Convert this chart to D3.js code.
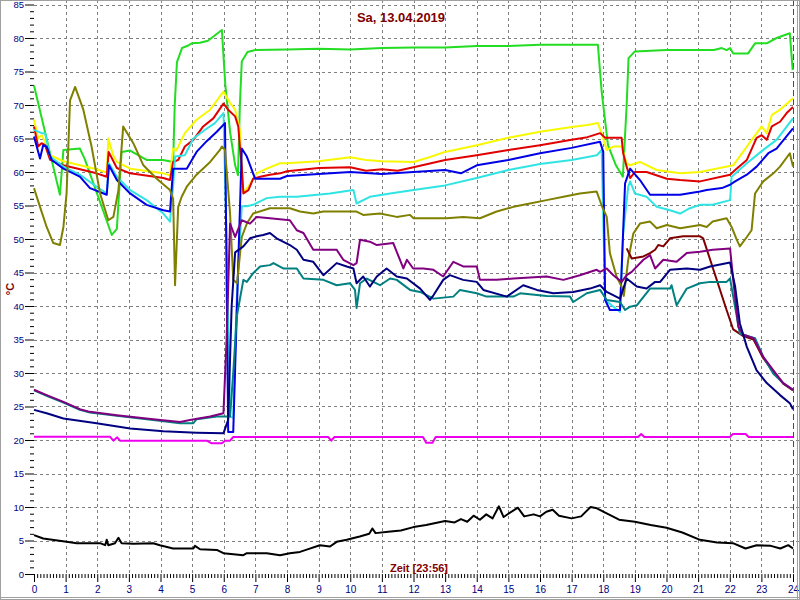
<!DOCTYPE html>
<html><head><meta charset="utf-8">
<script src="https://cdn.jsdelivr.net/npm/d3@7"></script>
<style>
body{margin:0;background:#fff;}
svg{display:block;font-family:"Liberation Sans",Arial,sans-serif;}
</style>
</head><body>
<svg id="c" width="800" height="600"></svg>
<script>
// ---------- labels / ticks ----------
const title = "Sa, 13.04.2019";
const xTitle = "Zeit [23:56]";
const yTitle = "°C";
const hourTicks = d3.range(0, 25);
const tempTicks = d3.range(0, 86, 5);
const nowHour = 24;

// ---------- series: [hour, °C] ----------
const green = [[0,72.9],[0.82,56.6],[0.93,63.3],[1.45,63.5],[1.6,62],[2.46,50.6],[2.62,51.5],[2.77,63],[3.04,63.2],[3.56,61.8],[4.08,61.8],[4.4,61.5],[4.45,70],[4.52,76.4],[4.68,78.5],[4.84,78.8],[4.99,79.2],[5.25,79.3],[5.5,79.6],[5.94,81.2],[6.05,73],[6.2,66],[6.36,61],[6.45,59.5],[6.51,70],[6.57,76.5],[6.75,77.9],[7,78.2],[8,78.3],[9,78.4],[10,78.3],[11,78.5],[12,78.6],[13,78.6],[14,78.8],[15,78.8],[16,79],[17,79],[17.83,79],[17.95,72],[18.15,64],[18.4,61],[18.62,59.3],[18.74,70],[18.8,77],[19,78],[20,78.2],[21.5,78.2],[21.75,78.5],[21.9,78.2],[22.01,78.5],[22.11,77.7],[22.58,77.7],[22.8,79.2],[23.17,79.2],[23.48,80],[23.9,80.7],[23.99,75.2]];
const yellow = [[0,67.8],[0.13,65],[0.24,65.5],[0.35,64.5],[0.51,62.5],[0.93,61.6],[1.98,60.4],[2.3,59.9],[2.35,65],[2.5,62.5],[2.62,61.5],[3.04,60.5],[4.09,59.8],[4.3,59.5],[4.4,63.5],[4.5,63.2],[4.77,65.8],[5.14,67.8],[5.57,69.3],[5.99,72],[6.2,70.3],[6.36,69.3],[6.51,66.3],[6.57,61],[6.62,57],[6.78,57.8],[7.04,59.8],[7.36,60.5],[7.78,61.3],[8,61.3],[9,61.6],[10,62.2],[10.5,61.8],[11,61.6],[12,61.5],[12.5,62.2],[13,63],[14,64],[15,65.1],[16,66],[17,66.7],[17.5,67],[17.83,67.3],[17.95,65.8],[18.11,63.3],[18.32,63.8],[18.58,63.8],[18.74,61.3],[18.85,61],[19.16,61.5],[19.69,60.3],[20.43,59.8],[21.06,60],[22.11,61],[22.54,63.8],[23.01,66.8],[23.17,65.8],[23.33,68.5],[23.59,69.3],[24,71]];
const red = [[0,66.8],[0.13,63.8],[0.24,64.3],[0.35,64],[0.51,61.8],[0.93,61],[1.98,59.8],[2.3,59.3],[2.36,63],[2.62,60.6],[3.04,59.8],[4.09,59.1],[4.3,58.8],[4.4,61.5],[4.56,61.8],[4.77,63.8],[5.04,64.8],[5.35,66.8],[5.67,68],[5.99,70.2],[6.14,69.3],[6.36,68.3],[6.46,66.8],[6.51,63.8],[6.57,60.8],[6.62,56.8],[6.78,57.3],[6.93,59],[7.15,59.3],[7.46,59.6],[7.78,59.8],[8,60.1],[9,60.6],[10,60.7],[10.5,60.2],[11,60.4],[11.5,60.2],[12,60.7],[13,61.8],[14,62.5],[15,63.3],[16,64],[17,64.8],[17.5,65.2],[17.9,65.8],[18.06,65.1],[18.58,65.1],[18.63,62.8],[18.74,60.8],[18.85,59.1],[19,60],[19.37,60],[20.01,59],[20.43,58.8],[21.06,58.6],[22.01,59.6],[22.17,60.3],[22.54,61.8],[22.85,65.1],[23.01,65.5],[23.17,64.8],[23.33,66.8],[23.59,67.5],[23.8,68.8],[24,69.7]];
const cyan = [[0,66.3],[0.24,65.8],[0.35,65.8],[0.51,62.3],[0.93,60.8],[1.45,59.6],[1.98,57.8],[2.3,56.8],[2.37,61.3],[2.62,59.3],[3.04,57.3],[3.56,55.8],[4.09,53.8],[4.3,52.6],[4.4,58],[4.46,62.3],[4.77,62.5],[5.04,65],[5.41,66.3],[5.72,67.3],[5.99,68.8],[6.09,50],[6.2,23.5],[6.3,23.3],[6.4,40],[6.57,54.9],[6.73,54.9],[6.93,55.1],[7.36,56.1],[7.78,56.3],[8.31,56.3],[9.36,56.8],[10.1,57.3],[10.2,55.3],[10.62,56.3],[11.26,56.8],[12,57.3],[13,58],[14,59.1],[15,60.3],[16,61.2],[17,61.8],[17.8,62.5],[17.95,63.3],[18.06,40.9],[18.53,39.1],[18.63,50.9],[18.79,57.8],[18.85,58.6],[19,56.8],[19.37,56.3],[19.69,54.8],[20.11,54.3],[20.43,53.8],[20.74,54.6],[21.06,55.1],[21.46,55.1],[22.01,55.8],[22.06,59.3],[22.54,61.3],[23.06,63.3],[23.48,64.8],[24,68]];
const blue = [[0,65.3],[0.19,62],[0.29,64],[0.4,63.8],[0.56,61.8],[0.93,60.5],[1.45,59.3],[1.77,57.6],[2.3,56.6],[2.37,61],[2.62,58.8],[3.04,56.8],[3.56,55.1],[4.09,54.3],[4.3,54.1],[4.4,60.5],[4.83,60.5],[5.14,63],[5.46,64.6],[5.78,66],[6.04,67.3],[6.1,40],[6.14,21.2],[6.3,21.2],[6.45,45],[6.57,63.5],[6.73,62.3],[6.99,59],[7.78,59],[8,59.4],[9,59.7],[10,60],[11,59.7],[12,60],[13,60.3],[13.5,59.8],[14,61],[15,61.8],[16,62.8],[17,63.6],[17.9,64.5],[18,63],[18.06,40.9],[18.21,39.4],[18.53,39.4],[18.69,58.3],[18.85,60.5],[19.16,58.8],[19.48,56.6],[20.43,56.6],[21.06,57.1],[21.27,57.3],[21.75,57.6],[22.01,58.1],[22.17,58.6],[22.54,59.6],[22.85,60.8],[23.22,62.8],[23.48,63.5],[24,66.5]];
const olive = [[0,57.6],[0.19,54.8],[0.4,51.8],[0.61,49.4],[0.82,49.1],[0.93,51.8],[1.03,56.8],[1.14,70.7],[1.3,72.7],[1.56,69.3],[1.82,63.8],[2.09,56.8],[2.35,52.8],[2.51,53.3],[2.67,57.3],[2.82,66.8],[3.14,64.3],[3.46,61],[3.88,59],[4.3,57.3],[4.4,56],[4.46,43.1],[4.56,54.8],[4.67,56.3],[4.83,57.8],[5.14,59.6],[5.57,61.5],[5.88,63.3],[5.94,63.8],[6.04,63.3],[6.2,53.8],[6.3,43.9],[6.42,43.4],[6.57,50.3],[6.73,52.3],[6.93,53.8],[7.46,54.6],[8.09,54.6],[8.41,54.1],[8.83,53.8],[9.15,54.1],[10.2,54.1],[10.41,53.6],[10.94,53.8],[11.47,53.3],[11.89,53.6],[12,53.1],[13.05,53.1],[13.57,53.3],[14.1,53.1],[14.63,54.1],[15.16,54.8],[15.68,55.3],[16.21,55.8],[16.74,56.3],[17.26,56.8],[17.79,57.1],[17.95,55],[18.11,53.3],[18.21,47.9],[18.42,44.4],[18.58,42.9],[18.65,41.5],[18.79,46.9],[18.95,50.8],[19.16,52.3],[19.48,52.6],[19.69,51.6],[20.01,52.1],[20.43,51.6],[21.06,52.1],[21.27,51.8],[21.46,52.6],[21.9,53.1],[22.06,51.8],[22.22,49.9],[22.32,48.9],[22.54,50.3],[22.69,51.3],[22.8,56.8],[23.06,58.6],[23.38,59.8],[23.59,60.8],[23.9,62.8],[24,60.8]];
const purple = [[0,27.5],[0.4,26.7],[0.93,25.7],[1.45,24.6],[1.77,24.2],[2.62,23.7],[3.77,23.1],[4.62,22.7],[4.93,23],[5.57,23.5],[5.99,24],[6.09,35],[6.2,52.3],[6.36,50.3],[6.57,52.8],[6.83,52.3],[7.04,53.3],[7.46,53.1],[8.09,52.8],[8.31,51.3],[8.52,50.9],[8.83,48.4],[9.57,48.4],[9.78,46.9],[10.1,46.1],[10.2,46.4],[10.31,49.9],[10.62,49.6],[10.84,49.1],[11.36,49.4],[11.68,45.6],[11.79,46.9],[11.99,45.6],[12.31,45.6],[12.63,45.4],[12.94,44.4],[13.26,46.6],[13.57,45.9],[14,45.9],[14.1,43.9],[14.63,43.9],[15.16,44.1],[16.21,44.4],[16.74,43.9],[17.26,44.6],[17.79,45.4],[17.9,45.1],[18.11,45.6],[18.32,44.6],[18.58,43.6],[18.74,44.6],[18.9,45.1],[19.27,46.9],[19.48,47.6],[19.64,45.6],[19.9,46.9],[20.32,46.6],[20.64,47.9],[21.06,48.1],[21.46,48.4],[22.01,48.6],[22.11,43.9],[22.27,36.9],[22.43,35.7],[22.75,35.2],[23.06,32.4],[23.38,30.4],[23.69,28.5],[24,27.5]];
const navy = [[0,24.5],[0.4,24],[0.93,23.2],[1.98,22.5],[3.04,21.7],[4.09,21.3],[5.14,21.1],[5.99,21],[6.14,23],[6.25,40],[6.36,48],[6.62,48.9],[6.83,50.1],[7.04,50.4],[7.25,50.6],[7.46,50.9],[7.67,50.1],[8.09,49.1],[8.31,48.4],[8.52,46.9],[8.83,46.6],[9.15,44.6],[9.57,46.4],[9.89,45.9],[10.1,45.6],[10.2,43.4],[10.41,44.4],[10.62,42.9],[10.84,44.4],[11.15,45.6],[11.47,44.4],[11.79,44.1],[12.21,42.6],[12.52,40.9],[12.63,41.6],[12.94,43.9],[13.15,44.6],[13.57,43.9],[14,43.6],[14.21,42.4],[14.95,41.4],[15.47,43.1],[15.9,42.4],[16.42,41.9],[17.05,42.1],[17.58,42.6],[17.9,43.1],[18.11,42.1],[18.53,41.1],[18.74,44.1],[19.06,42.9],[19.37,42.6],[19.64,43.6],[19.8,43.6],[20.11,45.4],[20.64,45.6],[21.06,45.4],[21.38,45.9],[22.01,46.5],[22.17,42.9],[22.32,37.4],[22.54,33.9],[22.85,30.4],[23.17,28.5],[23.59,26.7],[23.9,25.5],[24,24.6]];
const teal = [[0,27.4],[0.4,26.6],[0.93,25.6],[1.45,24.5],[1.77,24.1],[2.62,23.6],[3.77,23],[4.62,22.5],[5.04,22.5],[5.14,23.1],[5.78,23.5],[6.2,23.5],[6.3,30],[6.41,38.4],[6.62,43.9],[6.73,43.6],[6.93,44.9],[7.15,45.9],[7.46,46.1],[7.57,46.4],[7.88,45.6],[8.31,45.6],[8.52,44.1],[9.15,43.9],[9.57,43.1],[9.99,43.4],[10.15,42.4],[10.2,39.7],[10.31,43.4],[10.52,44.1],[10.94,43.1],[11.26,44.1],[11.47,43.9],[11.89,42.4],[12.21,42.1],[12.63,41.1],[13.26,41.4],[13.47,42.4],[14,41.9],[14.31,41.4],[15.16,41.4],[15.37,41.9],[16.21,41.5],[16.95,41.4],[17.05,40.6],[17.48,41.9],[17.9,42.4],[18.11,40.9],[18.53,40.6],[18.69,39.4],[18.85,39.9],[19.06,40.1],[19.48,42.6],[20.11,42.6],[20.16,43.1],[20.32,40.1],[20.64,42.6],[21.06,43.4],[21.38,43.6],[21.9,43.6],[22.01,44.1],[22.11,41.4],[22.32,35.9],[22.64,35.4],[22.8,35.2],[23.06,32.4],[23.38,29.9],[23.69,28.5],[24,27.5]];
const maroon = [[18.74,48.6],[18.9,47.1],[19.27,47.4],[19.48,47.9],[19.64,48.4],[19.74,49.1],[19.9,48.9],[20.11,50.1],[20.53,50.4],[21.06,50.4],[21.16,50.1],[21.9,39.4],[22.11,36.5],[22.43,35.5],[22.75,35],[23.06,32.2],[23.38,30.2],[23.69,28.4],[24,27.4]];
const magenta = [[0,20.5],[2.4,20.5],[2.51,19.9],[2.63,20.4],[2.72,19.9],[5.46,19.9],[5.62,19.5],[5.94,19.5],[6.04,19.9],[6.2,19.9],[6.3,20.45],[9.3,20.45],[9.4,19.9],[9.5,20.45],[12.3,20.45],[12.4,19.6],[12.6,19.6],[12.7,20.45],[19.1,20.45],[19.2,20.9],[19.3,20.45],[22.0,20.45],[22.1,20.9],[22.5,20.9],[22.6,20.45],[24,20.45]];
const black = [[0,5.8],[0.29,5.3],[1.03,4.8],[1.35,4.6],[2.09,4.6],[2.25,4.3],[2.3,5.1],[2.35,4.3],[2.56,4.6],[2.67,5.4],[2.77,4.6],[3.14,4.5],[3.77,4.6],[3.98,4.3],[4.4,3.8],[5.04,3.8],[5.09,4.2],[5.25,3.7],[5.78,3.6],[5.99,3.1],[6.62,2.8],[6.73,3.1],[7.36,3.1],[7.78,2.8],[8.09,3.1],[8.41,3.3],[8.6,3.6],[9.04,4.3],[9.36,4.1],[9.57,4.8],[9.89,5.1],[10.3,5.6],[10.6,6.0],[10.7,6.8],[10.8,6.1],[11.2,6.3],[11.6,6.5],[12,7.0],[12.4,7.3],[12.7,7.6],[13,7.9],[13.3,7.7],[13.5,8.2],[13.7,7.8],[13.9,8.7],[14.1,8.1],[14.3,8.9],[14.5,8.3],[14.7,10.1],[14.85,8.5],[15.0,9.0],[15.3,9.9],[15.5,8.6],[15.8,8.9],[16.0,8.6],[16.2,9.3],[16.4,9.6],[16.6,8.7],[17.0,8.3],[17.3,8.6],[17.6,10.0],[17.8,9.8],[18.0,9.3],[18.5,8.1],[19.0,7.8],[19.5,7.3],[20.0,6.9],[20.5,6.2],[21.06,5.1],[21.6,4.7],[22.1,4.6],[22.5,3.8],[22.85,4.3],[23.3,4.2],[23.6,3.8],[23.85,4.3],[24,3.8]];

const seriesColors = ["#22dd22","#f8f800","#e00000","#30e4e4","#0000e6","#808000","#800000","#008080","#800080","#000080","#ee00ee","#000000"];
const seriesData = [green, yellow, red, cyan, blue, olive, maroon, teal, purple, navy, magenta, black];

// ---------- drawing ----------
const W = 800, H = 600;
const svg = d3.select("#c");
const x = d3.scaleLinear().domain([0, 24]).range([34, 793]);
const y = d3.scaleLinear().domain([0, 85]).range([574, 4.5]);

svg.append("rect").attr("x",0).attr("y",0).attr("width",W).attr("height",H).attr("fill","#fff");

// grid
const grid = svg.append("g").attr("stroke","#808080").attr("stroke-width",1).attr("stroke-dasharray","3,3");
hourTicks.filter(h => h > 0 && h < 24).forEach(h => {
  const px = Math.round(x(h)) + 0.5;
  grid.append("line").attr("x1",px).attr("x2",px).attr("y1",0).attr("y2",y(0));
});
tempTicks.filter(t => t > 0).forEach(t => {
  const py = Math.round(y(t)) + 0.5;
  grid.append("line").attr("x1",x(0)).attr("x2",W).attr("y1",py).attr("y2",py);
});
// current-time marker
svg.append("line").attr("x1",Math.round(x(nowHour))+0.5).attr("x2",Math.round(x(nowHour))+0.5)
  .attr("y1",0).attr("y2",y(0)).attr("stroke","#008000").attr("stroke-width",1).attr("stroke-dasharray","6,3");

// axes
const minorX = d3.range(0, 241).map(i => i / 10).filter(v => Math.abs(v - Math.round(v)) > 1e-6);
const gxMinor = svg.append("g").attr("transform",`translate(0,${y(0)})`)
  .call(d3.axisBottom(x).tickValues(minorX).tickSize(4).tickFormat(""));
const gx = svg.append("g").attr("transform",`translate(0,${y(0)})`)
  .call(d3.axisBottom(x).tickValues(hourTicks).tickSize(8).tickPadding(4).tickFormat(d3.format("d")));
const minorY = d3.range(0, 86).filter(v => v % 5 !== 0);
const gyMinor = svg.append("g").attr("transform",`translate(${x(0)},0)`)
  .call(d3.axisLeft(y).tickValues(minorY).tickSize(4).tickFormat(""));
const gy = svg.append("g").attr("transform",`translate(${x(0)},0)`)
  .call(d3.axisLeft(y).tickValues(tempTicks).tickSize(9).tickPadding(1).tickFormat(d3.format("d")));
[gxMinor, gx, gyMinor, gy].forEach(g => {
  g.select(".domain").remove();
  g.selectAll("line").attr("stroke","#000");
});
gx.selectAll("text").attr("fill","#000080").attr("font-size","10px").attr("font-family","Liberation Sans, Arial, sans-serif");
gy.selectAll("text").attr("fill","#000080").attr("font-size","9.5px").attr("font-family","Liberation Sans, Arial, sans-serif");

// series
const line = d3.line().x(d => x(d[0])).y(d => y(d[1]));
const gs = svg.append("g").attr("fill","none").attr("stroke-width",2).attr("stroke-linejoin","round");
seriesData.forEach((data, i) => {
  gs.append("path").attr("d", line(data)).attr("stroke", seriesColors[i]);
});

// texts
svg.append("text").attr("x",401).attr("y",22).attr("text-anchor","middle")
  .attr("font-size","13px").attr("font-weight","bold").attr("fill","#800000").text(title);
svg.append("text").attr("x",419).attr("y",572).attr("text-anchor","middle")
  .attr("font-size","11px").attr("font-weight","bold").attr("fill","#800000").text(xTitle);
svg.append("text").attr("transform","translate(14,289) rotate(-90)").attr("text-anchor","middle")
  .attr("font-size","11px").attr("font-weight","bold").attr("fill","#800000").text(yTitle);

// frame
svg.append("rect").attr("x",0.5).attr("y",0.5).attr("width",W-1).attr("height",H-1)
  .attr("fill","none").attr("stroke","#a0a0a0").attr("stroke-width",1);
svg.append("line").attr("x1",797.5).attr("x2",797.5).attr("y1",0).attr("y2",H).attr("stroke","#a0a0a0");
svg.append("line").attr("x1",0).attr("x2",W).attr("y1",597.5).attr("y2",597.5).attr("stroke","#a0a0a0");
</script>
</body></html>
